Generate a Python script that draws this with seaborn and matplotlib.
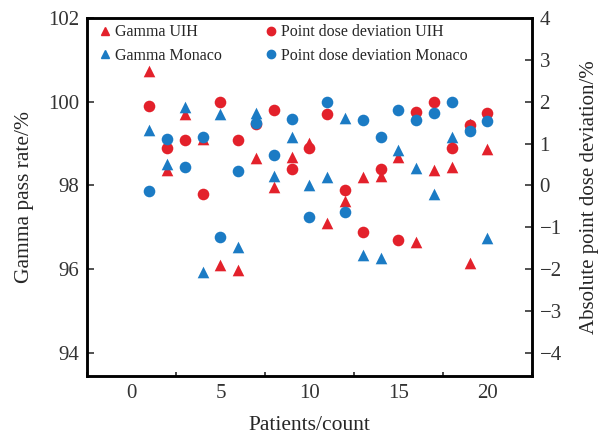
import numpy as np
import pandas as pd

import matplotlib
matplotlib.use('agg')
import matplotlib.pyplot as plt
from matplotlib.ticker import MultipleLocator

import seaborn as sns

patients = list(range(1, 21))
# Gamma pass rate (%), left axis
gamma_uih = [100.74, 98.36, 99.71, 99.12, 96.10, 95.99, 98.65, 97.97, 98.69, 99.01,
             97.10, 97.64, 98.21, 98.23, 98.69, 96.65, 98.36, 98.44, 96.15, 98.87]
gamma_monaco = [99.33, 98.51, 99.88, 95.94, 99.71, 96.53, 99.73, 98.23, 99.15, 98.01,
                98.21, 99.61, 96.34, 96.26, 98.85, 98.41, 97.80, 99.15, 99.47, 96.74]
# Absolute point dose deviation (%), right axis
dev_uih = [1.90, 0.90, 1.09, -0.21, 2.00, 1.09, 1.48, 1.80, 0.40, 0.89,
           1.70, -0.11, -1.11, 0.40, -1.31, 1.75, 2.00, 0.89, 1.45, 1.74]
dev_monaco = [-0.13, 1.12, 0.44, 1.15, -1.23, 0.34, 1.50, 0.72, 1.59, -0.76,
              2.00, -0.64, 1.57, 1.15, 1.80, 1.57, 1.74, 2.00, 1.29, 1.55]

RED = '#e3212b'
BLUE = '#1b7bc4'


def main():
    """Draw dual axis scatter"""
    sns.set_style('white')
    plt.rcParams['font.family'] = ['Liberation Serif', 'DejaVu Serif']

    dfrm = pd.DataFrame({'patient': patients,
                         'gamma_uih': gamma_uih, 'gamma_monaco': gamma_monaco,
                         'dev_uih': dev_uih, 'dev_monaco': dev_monaco})

    fig = plt.figure(figsize=(6.01, 4.36), dpi=100)
    ax = fig.add_axes([0.1448, 0.1376, 0.7402, 0.8211])
    ax2 = ax.twinx()

    kws = dict(s=70, linewidth=0, legend=False)
    sns.scatterplot(data=dfrm, x='patient', y='gamma_uih', marker='^', color=RED, ax=ax, zorder=3, **kws)
    sns.scatterplot(data=dfrm, x='patient', y='gamma_monaco', marker='^', color=BLUE, ax=ax, zorder=3, **kws)
    sns.scatterplot(data=dfrm, x='patient', y='dev_uih', marker='o', color=RED, ax=ax2, zorder=4, **kws)
    sns.scatterplot(data=dfrm, x='patient', y='dev_monaco', marker='o', color=BLUE, ax=ax2, zorder=5, **kws)

    ax.set_xlim(-2.5, 22.5)
    ax.set_ylim(93.45, 102)
    ax2.set_ylim(-4.55, 4)
    ax.set_xticks([0, 5, 10, 15, 20])
    ax.xaxis.set_minor_locator(MultipleLocator(2.5))
    ax.set_yticks([94, 96, 98, 100, 102])
    ax2.set_yticks(range(-4, 5))
    ax2.set_yticklabels([str(v).replace('-', '\u2212') for v in range(-4, 5)])

    ax.set_xlabel('Patients/count', fontsize=15.5, labelpad=9)
    ax.set_ylabel('Gamma pass rate/%', fontsize=15.5, labelpad=10)
    ax2.set_ylabel('Absolute point dose deviation/%', fontsize=15, labelpad=13)

    for axis in (ax, ax2):
        for spine in axis.spines.values():
            spine.set_linewidth(1.8)
            spine.set_color('black')
        axis.tick_params(direction='in', length=5, width=1.2, labelsize=15,
                         labelcolor='#333333', color='#333333', pad=5.5)
    ax.tick_params(axis='y', right=False, left=True)
    ax.tick_params(axis='x', which='minor', direction='in', length=3, width=1.2, bottom=True)
    ax.tick_params(axis='x', pad=6)
    ax2.tick_params(axis='y', right=True, left=False)

    handles = [
        plt.Line2D([], [], marker='^', color=RED, linestyle='', markersize=6),
        plt.Line2D([], [], marker='^', color=BLUE, linestyle='', markersize=6),
        plt.Line2D([], [], marker='o', color=RED, linestyle='', markersize=6),
        plt.Line2D([], [], marker='o', color=BLUE, linestyle='', markersize=6)]
    labels = ['Gamma UIH', 'Gamma Monaco', 'Point dose deviation UIH', 'Point dose deviation Monaco']
    ax2.legend(handles, labels, loc='upper left', ncol=2, frameon=False, fontsize=11.5,
               handlelength=0.6, handletextpad=0.3, columnspacing=2.8, labelspacing=0.45,
               borderaxespad=0.0, bbox_to_anchor=(0.016, 1.0))

    fig.savefig('out.png', dpi=100)


if __name__ == '__main__':
    main()
